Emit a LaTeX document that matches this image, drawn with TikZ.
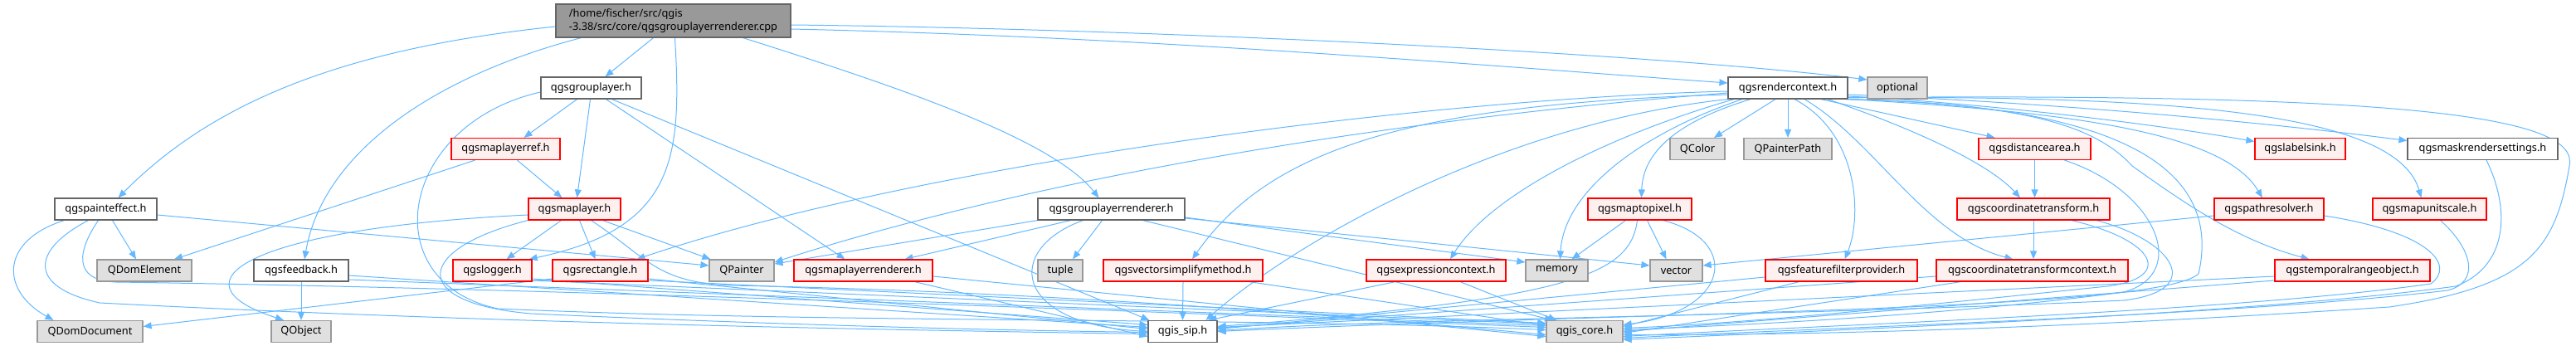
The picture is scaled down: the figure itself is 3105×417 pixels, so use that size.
\documentclass[tikz,border=0pt]{standalone}
\usepackage{fontspec}
\setmainfont{Noto Sans}
\usetikzlibrary{arrows.meta,backgrounds}

\begin{document}
\begin{tikzpicture}[x=1pt,y=-1pt,
    hdr/.style={rectangle, draw=boxgray, fill=white, line width=1.2pt, inner sep=0pt,
        minimum height=26pt, font=\fontsize{12.8}{15.5}\selectfont},
    hdrred/.style={hdr, draw=red, fill=redfill},
    hdrext/.style={hdr, draw=extgray, fill=extfill},
    hdrmain/.style={hdr, draw=boxgray, fill=mainfill, minimum height=40pt, align=left},
    incl/.style={draw=edgeblue, line width=1pt, -{Triangle[length=10pt,width=8pt]}}]

    % Colors for the boxes and arrows
    \definecolor{edgeblue}{RGB}{99,184,255}
    \definecolor{boxgray}{RGB}{102,102,102}
    \definecolor{extgray}{RGB}{153,153,153}
    \definecolor{extfill}{RGB}{224,224,224}
    \definecolor{redfill}{RGB}{255,240,240}
    \definecolor{mainfill}{RGB}{153,153,153}

    \useasboundingbox (0,0) rectangle (3105,417);

    % Source file
    \node[hdrmain, minimum width=283pt] (main) at (811.5,25) {/home/fischer/src/qgis\\-3.38/src/core/qgsgrouplayerrenderer.cpp};

    % Row 2
    \node[hdr, minimum width=121pt] (grouplayer) at (712.5,106) {qgsgrouplayer.h};
    \node[hdr, minimum width=144pt] (rendercontext) at (2155,106) {qgsrendercontext.h};
    \node[hdrext, minimum width=72pt] (optional) at (2287,106) {optional};

    % Row 3
    \node[hdrred, minimum width=131pt] (mapref) at (609.5,179.5) {qgsmaplayerref.h};
    \node[hdrext, minimum width=66pt] (qcolor) at (2046,179.5) {QColor};
    \node[hdrext, minimum width=106pt] (qpainterpath) at (2155,179.5) {QPainterPath};
    \node[hdrred, minimum width=135pt] (distancearea) at (2452.5,179.5) {qgsdistancearea.h};
    \node[hdrred, minimum width=109pt] (labelsink) at (2772.5,179.5) {qgslabelsink.h};
    \node[hdr, minimum width=181pt] (maskrender) at (2992.5,179.5) {qgsmaskrendersettings.h};

    % Row 4
    \node[hdr, minimum width=123pt] (painteffect) at (127.5,252) {qgspainteffect.h};
    \node[hdrred, minimum width=111pt] (maplayer) at (692.5,252) {qgsmaplayer.h};
    \node[hdr, minimum width=177pt] (grouprenderer) at (1339.5,252) {qgsgrouplayerrenderer.h};
    \node[hdrred, minimum width=125pt] (maptopixel) at (1976.5,252) {qgsmaptopixel.h};
    \node[hdrred, minimum width=184pt] (coordtransform) at (2451,252) {qgscoordinatetransform.h};
    \node[hdrred, minimum width=132pt] (pathresolver) at (2735,252) {qgspathresolver.h};
    \node[hdrred, minimum width=137pt] (mapunitscale) at (2928.5,252) {qgsmapunitscale.h};

    % Row 5
    \node[hdrext, minimum width=114pt] (qdomelement) at (174,326) {QDomElement};
    \node[hdr, minimum width=114pt] (feedback) at (363,326) {qgsfeedback.h};
    \node[hdrred, minimum width=95pt] (logger) at (593.5,326) {qgslogger.h};
    \node[hdrred, minimum width=115pt] (rectangle) at (723.5,326) {qgsrectangle.h};
    \node[hdrext, minimum width=78pt] (qpainter) at (894,326) {QPainter};
    \node[hdrred, minimum width=167pt] (layerrenderer) at (1040.5,326) {qgsmaplayerrenderer.h};
    \node[hdrext, minimum width=54pt] (tuple) at (1278,326) {tuple};
    \node[hdrred, minimum width=192pt] (simplify) at (1426,326) {qgsvectorsimplifymethod.h};
    \node[hdrred, minimum width=168pt] (exprcontext) at (1731,326) {qgsexpressioncontext.h};
    \node[hdrext, minimum width=75pt] (memory) at (1876.5,326) {memory};
    \node[hdrext, minimum width=63pt] (vector) at (2020.5,326) {vector};
    \node[hdrred, minimum width=183pt] (filterprovider) at (2219.5,326) {qgsfeaturefilterprovider.h};
    \node[hdrred, minimum width=231pt] (transformctx) at (2449.5,326) {qgscoordinatetransformcontext.h};
    \node[hdrred, minimum width=187pt] (temporalrange) at (2835.5,326) {qgstemporalrangeobject.h};

    % Row 6
    \node[hdrext, minimum width=127pt] (qdomdocument) at (108.5,399.5) {QDomDocument};
    \node[hdrext, minimum width=72pt] (qobject) at (363,399.5) {QObject};
    \node[hdr, minimum width=83pt] (qgissip) at (1425.5,399.5) {qgis\_sip.h};
    \node[hdrext, minimum width=92pt] (qgiscore) at (1910,399.5) {qgis\_core.h};

    \begin{pgfonlayer}{background}
    % Includes of the source file
    \draw[incl] ([yshift=-7pt]main.west) .. controls (400,60) and (250,130) .. ([xshift=15pt]painteffect.north);
    \draw[incl] ([xshift=-111pt]main.south) .. controls (530,90) and (390,180) .. ([xshift=4pt]feedback.north);
    \draw[incl] ([xshift=-24pt]main.south) -- ([xshift=17pt]grouplayer.north);
    \draw[incl] ([xshift=2pt]main.south) .. controls (822,190) and (815,275) .. ([xshift=-4pt]logger.north east);
    \draw[incl] ([xshift=84pt]main.south) .. controls (1100,110) and (1270,170) .. ([xshift=-15pt]grouprenderer.north);
    \draw[incl] ([yshift=-10pt]main.east) .. controls (1400,45) and (1800,80) .. ([yshift=6pt]rendercontext.west);
    \draw[incl] ([yshift=-5pt]main.east) .. controls (1400,35) and (2000,65) .. ([yshift=10pt]optional.west);

    % qgsgrouplayer.h
    \draw[incl] ([xshift=-17pt]grouplayer.south) -- ([xshift=22pt]mapref.north);
    \draw[incl] ([xshift=-1pt]grouplayer.south) -- ([xshift=3pt]maplayer.north);
    \draw[incl] ([xshift=18pt]grouplayer.south) -- ([xshift=-22pt]layerrenderer.north);
    \draw[incl] ([xshift=25pt]grouplayer.south) -- ([xshift=2pt]qgissip.north west);
    \draw[incl] ([yshift=-5pt]grouplayer.west) .. controls (480,150) and (450,340) .. (600,372)
        .. controls (1000,390) and (1500,382) .. ([yshift=2pt]qgiscore.west);

    % qgsmaplayerref.h
    \draw[incl] ([xshift=14pt]mapref.south) -- ([xshift=-15pt]maplayer.north);
    \draw[incl] ([xshift=-37pt]mapref.south) -- ([xshift=36pt]qdomelement.north);

    % qgspainteffect.h
    \draw[incl] ([xshift=8pt]painteffect.south) -- ([xshift=-10pt]qdomelement.north);
    \draw[incl] ([xshift=-50pt]painteffect.south) .. controls (0,290) and (0,350) .. ([xshift=-44pt]qdomdocument.north);
    \draw[incl] ([yshift=-7pt]painteffect.east) -- ([yshift=6pt]qpainter.west);
    \draw[incl] ([xshift=-21pt]painteffect.south) .. controls (40,300) and (30,345) .. (120,365)
        .. controls (600,390) and (1100,398) .. ([yshift=-3pt]qgissip.west);
    \draw[incl] ([xshift=-9pt]painteffect.south) .. controls (95,300) and (85,338) .. (140,340)
        .. controls (700,348) and (1500,380) .. ([yshift=5pt]qgiscore.west);

    % qgsfeedback.h
    \draw[incl] (feedback.south) -- (qobject.north);
    \draw[incl] ([yshift=-6pt]feedback.east) -- ([yshift=5pt]qgissip.west);
    \draw[incl] ([yshift=-11pt]feedback.east) -- ([yshift=7pt]qgiscore.west);

    % qgsmaplayer.h
    \draw[incl] ([xshift=-16pt]maplayer.south) -- ([xshift=17pt]logger.north);
    \draw[incl] ([xshift=6pt]maplayer.south) -- ([xshift=-6pt]rectangle.north);
    \draw[incl] ([xshift=34pt]maplayer.south) -- ([xshift=2pt]qpainter.north west);
    \draw[incl] ([yshift=-7pt]maplayer.west) .. controls (300,275) and (200,340) .. ([xshift=-21pt]qobject.north);
    \draw[incl] (maplayer.south west) .. controls (500,300) and (490,365) .. (640,378)
        .. controls (950,392) and (1200,398) .. ([yshift=-1pt]qgissip.west);
    \draw[incl] ([xshift=20pt]maplayer.south) .. controls (780,310) and (790,340) .. (880,344)
        .. controls (1300,352) and (1700,388) .. ([yshift=-4pt]qgiscore.west);

    % qgslogger.h, qgsrectangle.h, qgsmaplayerrenderer.h
    \draw[incl] ([yshift=-10pt]logger.east) -- ([yshift=8pt]qgissip.west);
    \draw[incl] ([yshift=-12pt]logger.east) -- ([yshift=9pt]qgiscore.west);
    \draw[incl] ([yshift=-10pt]rectangle.west) -- ([yshift=6pt]qdomdocument.east);
    \draw[incl] ([yshift=-10pt]rectangle.east) -- ([yshift=3pt]qgissip.west);
    \draw[incl] ([yshift=-12pt]rectangle.east) -- ([yshift=10pt]qgiscore.west);
    \draw[incl] ([xshift=62pt]layerrenderer.south) -- ([yshift=-6pt]qgissip.west);
    \draw[incl] ([yshift=-7pt]layerrenderer.east) -- ([yshift=-6pt]qgiscore.west);

    % qgsgrouplayerrenderer.h
    \draw[incl] ([xshift=-49pt]grouprenderer.south) -- ([xshift=50pt]layerrenderer.north);
    \draw[incl] (grouprenderer.south west) -- ([yshift=8pt]qpainter.east);
    \draw[incl] ([xshift=-11pt]grouprenderer.south) -- ([xshift=15pt]tuple.north);
    \draw[incl] ([xshift=-34pt]grouprenderer.south) .. controls (1210,300) and (1220,390) .. (qgissip.west);
    \draw[incl] ([yshift=-10pt]grouprenderer.east) -- ([yshift=10pt]memory.west);
    \draw[incl] ([yshift=-11pt]grouprenderer.east) -- ([yshift=6pt]vector.west);
    \draw[incl] ([xshift=38pt]grouprenderer.south) -- ([xshift=-38pt]qgiscore.north);

    % qgsvectorsimplifymethod.h, qgsexpressioncontext.h
    \draw[incl] (simplify.south) -- (qgissip.north);
    \draw[incl] ([xshift=80pt]simplify.south) -- ([yshift=7pt]qgiscore.west);
    \draw[incl] ([xshift=-49pt]exprcontext.south) -- ([xshift=31pt]qgissip.north);
    \draw[incl] ([xshift=29pt]exprcontext.south) -- ([xshift=-34pt]qgiscore.north);

    % qgsmaptopixel.h
    \draw[incl] ([xshift=-17pt]maptopixel.south) -- ([xshift=18pt]memory.north);
    \draw[incl] ([xshift=9pt]maptopixel.south) -- ([xshift=-12pt]vector.north);
    \draw[incl] ([xshift=-3pt]maptopixel.south) .. controls (1965,330) and (1900,360) .. ([yshift=6pt]qgissip.east);
    \draw[incl] ([xshift=28pt]maptopixel.south) .. controls (2100,290) and (2085,375) .. ([yshift=8pt]qgiscore.east);

    % qgsrendercontext.h
    \draw[incl] ([xshift=-15pt]rendercontext.south) -- ([xshift=20pt]qcolor.north);
    \draw[incl] (rendercontext.south) -- (qpainterpath.north);
    \draw[incl] ([xshift=40pt]rendercontext.south) -- ([xshift=-48pt]distancearea.north);
    \draw[incl] ([xshift=48pt]rendercontext.south) .. controls (2320,160) and (2400,200) .. ([xshift=-16pt]coordtransform.north);
    \draw[incl] ([xshift=20pt]rendercontext.south) .. controls (2260,170) and (2320,285) .. ([xshift=-23pt]transformctx.north);
    \draw[incl] ([xshift=8pt]rendercontext.south) .. controls (2240,160) and (2245,260) .. ([xshift=4pt]filterprovider.north);
    \draw[incl] ([yshift=-10pt]rendercontext.east) .. controls (2400,125) and (2600,150) .. ([yshift=9pt]labelsink.west);
    \draw[incl] ([yshift=-8pt]rendercontext.east) .. controls (2500,125) and (2750,150) .. ([yshift=10pt]maskrender.west);
    \draw[incl] (rendercontext.south east) .. controls (2500,135) and (2680,160) .. ([xshift=-8pt]pathresolver.north);
    \draw[incl] ([yshift=2pt]rendercontext.south east) .. controls (2650,115) and (2890,140) .. ([xshift=-10pt]mapunitscale.north);
    \draw[incl] ([xshift=-3pt]rendercontext.south east) .. controls (2420,125) and (2520,145) .. (2570,200)
        .. controls (2640,250) and (2700,290) .. ([xshift=-52pt]temporalrange.north);
    \draw[incl] ([yshift=2pt]rendercontext.south east) .. controls (2900,112) and (3110,140) .. (3097,200)
        .. controls (3080,300) and (3050,345) .. (2880,370) .. controls (2500,395) and (2200,404) .. ([yshift=-4pt]qgiscore.east);
    \draw[incl] ([xshift=-6pt]rendercontext.south east) .. controls (2550,125) and (2680,200) .. (2650,330)
        .. controls (2600,375) and (2000,375) .. (qgissip.east);
    \draw[incl] ([yshift=-4pt]rendercontext.west) .. controls (1700,120) and (1100,200) .. ([xshift=44pt]rectangle.north);
    \draw[incl] ([yshift=-6pt]rendercontext.west) .. controls (1600,150) and (1200,230) .. ([yshift=10pt]qpainter.east);
    \draw[incl] ([yshift=-8pt]rendercontext.west) .. controls (1700,125) and (1530,180) .. ([xshift=11pt]simplify.north);
    \draw[incl] (rendercontext.south west) .. controls (1800,150) and (1550,300) .. ([xshift=28pt]qgissip.north);
    \draw[incl] ([xshift=-65pt]rendercontext.south) .. controls (1950,160) and (1800,230) .. ([xshift=17pt]exprcontext.north);
    \draw[incl] ([xshift=-55pt]rendercontext.south) .. controls (1980,160) and (1885,230) .. ([xshift=4pt]memory.north);
    \draw[incl] ([xshift=-45pt]rendercontext.south) .. controls (2010,150) and (1980,190) .. ([xshift=2pt]maptopixel.north);

    % qgsdistancearea.h, qgscoordinatetransform.h
    \draw[incl] (distancearea.south) -- ([xshift=1.5pt]coordtransform.north);
    \draw[incl] ([xshift=36pt]distancearea.south) .. controls (2600,230) and (2640,330) .. (2560,352)
        .. controls (2350,380) and (2100,392) .. ([yshift=2pt]qgiscore.east);
    \draw[incl] (coordtransform.south) -- ([xshift=1.5pt]transformctx.north);
    \draw[incl] ([xshift=46pt]coordtransform.south) .. controls (2600,290) and (2620,335) .. (2540,345)
        .. controls (2300,370) and (2100,390) .. ([yshift=4pt]qgiscore.east);
    \draw[incl] ([xshift=76pt]coordtransform.south) .. controls (2620,290) and (2660,350) .. (2560,362)
        .. controls (2100,383) and (1700,383) .. ([yshift=1pt]qgissip.east);

    % qgscoordinatetransformcontext.h, qgsfeaturefilterprovider.h, qgstemporalrangeobject.h
    \draw[incl] ([yshift=-7pt]transformctx.west) -- ([yshift=4pt]qgissip.east);
    \draw[incl] ([xshift=-86pt]transformctx.south) -- ([yshift=-2pt]qgiscore.east);
    \draw[incl] ([yshift=-8pt]filterprovider.west) -- ([yshift=3pt]qgissip.east);
    \draw[incl] ([xshift=-51pt]filterprovider.south) -- ([yshift=6pt]qgiscore.east);
    \draw[incl] ([yshift=-7pt]temporalrange.west) -- ([yshift=5pt]qgissip.east);
    \draw[incl] ([yshift=-12pt]temporalrange.west) -- (qgiscore.east);

    % qgspathresolver.h, qgsmapunitscale.h, qgsmaskrendersettings.h
    \draw[incl] ([yshift=-8pt]pathresolver.west) -- ([yshift=6pt]vector.east);
    \draw[incl] ([yshift=-8pt]pathresolver.east) .. controls (2930,280) and (2960,320) .. (2930,342)
        .. controls (2700,375) and (2200,392) .. ([yshift=-6pt]qgiscore.east);
    \draw[incl] ([xshift=13pt]mapunitscale.south) .. controls (2980,300) and (2990,340) .. (2950,350)
        .. controls (2700,380) and (2200,395) .. ([yshift=-8pt]qgiscore.east);
    \draw[incl] ([xshift=4.5pt]maskrender.south) .. controls (3025,250) and (3025,320) .. (2960,345)
        .. controls (2700,380) and (2200,398) .. ([yshift=-10pt]qgiscore.east);
    \end{pgfonlayer}

\end{tikzpicture}
\end{document}
